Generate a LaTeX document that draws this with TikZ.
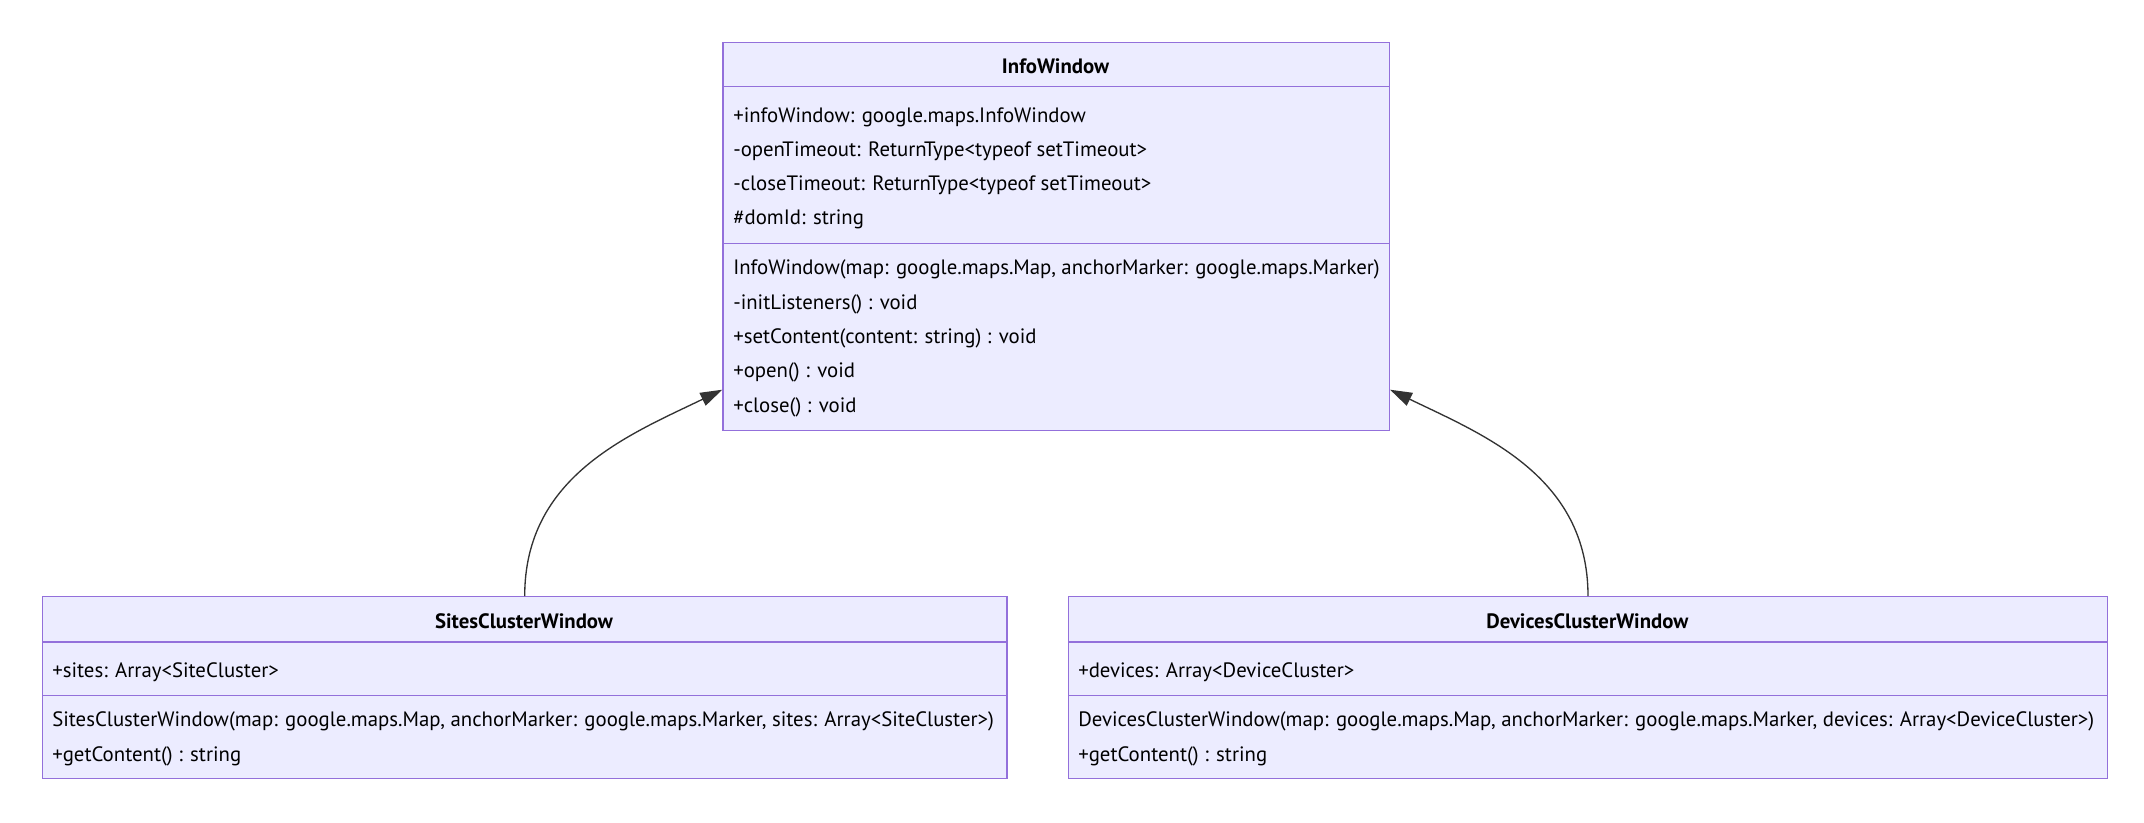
\documentclass[tikz,border=0pt]{standalone}
\usepackage{fontspec}
\setmainfont{PT Sans}
\usetikzlibrary{arrows.meta}
\definecolor{clsfill}{HTML}{ECECFF}
\definecolor{clsline}{HTML}{9370DB}
\definecolor{edgecol}{HTML}{333333}
\tikzset{
  compart/.style={draw=clsline, fill=clsfill, line width=1pt, inner sep=0pt, anchor=north west},
  member/.style={anchor=base west, inner sep=0pt,
    font=\fontsize{15.6}{18}\selectfont, text=black},
  ctitle/.style={anchor=base, inner sep=0pt,
    font=\fontsize{15.6}{18}\selectfont\bfseries, text=black},
  inherit/.style={draw=edgecol, line width=1pt,
    -{Triangle[length=16.5pt,width=10.5pt,fill=edgecol]}},
}
\begin{document}
\begin{tikzpicture}[x=0.75pt,y=-0.75pt]
\useasboundingbox[fill=white] (0,0) rectangle (2144,822);

% ---------- InfoWindow ----------
\node[compart, minimum width=499.8pt, minimum height=33.2pt] (info-t) at (722.3,41.7) {};
\node[compart, minimum width=499.8pt, minimum height=117.75pt] (info-a) at (722.3,86) {};
\node[compart, minimum width=499.8pt, minimum height=140.25pt] (info-m) at (722.3,243) {};
\node[ctitle] (info-n) at (1055.5,73) {InfoWindow};
\node[member] (info-a1) at (733,122) {+infoWindow: google.maps.InfoWindow};
\node[member] (info-a2) at (733,156) {-openTimeout: ReturnType<typeof setTimeout>};
\node[member] (info-a3) at (733,190.5) {-closeTimeout: ReturnType<typeof setTimeout>};
\node[member] (info-a4) at (733,224.5) {\#domId: string};
\node[member] (info-m1) at (733,274.5) {InfoWindow(map: google.maps.Map, anchorMarker: google.maps.Marker)};
\node[member] (info-m2) at (733,309) {-initListeners() : void};
\node[member] (info-m3) at (733,343) {+setContent(content: string) : void};
\node[member] (info-m4) at (733,377.5) {+open() : void};
\node[member] (info-m5) at (733,412) {+close() : void};

% ---------- SitesClusterWindow ----------
\node[compart, minimum width=723.5pt, minimum height=34.1pt] (sites-t) at (41.7,596) {};
\node[compart, minimum width=723.5pt, minimum height=40.1pt] (sites-a) at (41.7,641.5) {};
\node[compart, minimum width=723.5pt, minimum height=62.25pt] (sites-m) at (41.7,695) {};
\node[ctitle] (sites-n) at (524,628) {SitesClusterWindow};
\node[member] (sites-a1) at (52,677.5) {+sites: Array<SiteCluster>};
\node[member] (sites-m1) at (52,726.5) {SitesClusterWindow(map: google.maps.Map, anchorMarker: google.maps.Marker, sites: Array<SiteCluster>)};
\node[member] (sites-m2) at (52,761) {+getContent() : string};

% ---------- DevicesClusterWindow ----------
\node[compart, minimum width=779pt, minimum height=34.1pt] (dev-t) at (1068,596) {};
\node[compart, minimum width=779pt, minimum height=40.1pt] (dev-a) at (1068,641.5) {};
\node[compart, minimum width=779pt, minimum height=62.25pt] (dev-m) at (1068,695) {};
\node[ctitle] (dev-n) at (1587.3,628) {DevicesClusterWindow};
\node[member] (dev-a1) at (1078,677.5) {+devices: Array<DeviceCluster>};
\node[member] (dev-m1) at (1078,726.5) {DevicesClusterWindow(map: google.maps.Map, anchorMarker: google.maps.Marker, devices: Array<DeviceCluster>)};
\node[member] (dev-m2) at (1078,761) {+getContent() : string};

% ---------- inheritance ----------
\draw[inherit] (sites-t.north) .. controls +(0,-120) and +(-93,45) .. ([yshift=-39.4pt]info-m.west);
\draw[inherit] (dev-t.north) .. controls +(0,-120) and +(93,45) .. ([yshift=-39.4pt]info-m.east);
\end{tikzpicture}
\end{document}
